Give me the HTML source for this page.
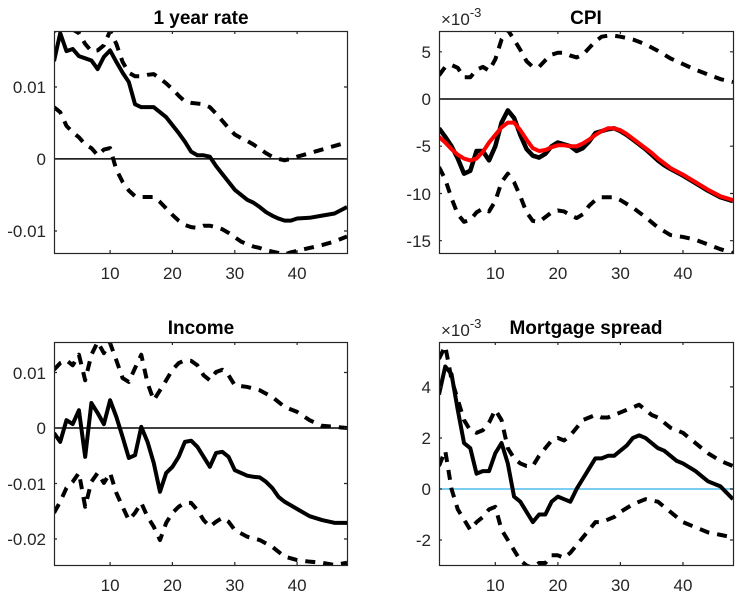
<!DOCTYPE html>
<html><head><meta charset="utf-8"><style>
html,body{margin:0;padding:0;background:#fff;}
svg text{font-family:"Liberation Sans",sans-serif;fill:#262626;}
</style></head><body>
<svg width="741" height="597" viewBox="0 0 741 597" xmlns="http://www.w3.org/2000/svg">
<rect width="741" height="597" fill="#fff"/>

<svg x="54" y="31" width="293" height="222" viewBox="1 -17.8 47 30.9" preserveAspectRatio="none">
<g transform="scale(1,-1)" fill="none" stroke-linejoin="round">
<line x1="1" y1="0" x2="48" y2="0" stroke="#000" stroke-width="1.5" vector-effect="non-scaling-stroke"/>
<polyline vector-effect="non-scaling-stroke" stroke="#000" stroke-width="4" points="1,13.6 2,17.5 3,15 4,15.3 5,14.3 6,14 7,13.7 8,12.5 9,14.2 10,15.1 11,13.5 12,12 13,10.7 14,7.6 15,7.2 16,7.2 17,7.2 18,6.5 19,5.8 20,4.7 21,3.6 22,2.4 23,1 24,0.5 25,0.5 26,0.3 27,-1 28,-2.1 29,-3.2 30,-4.3 31,-5 32,-5.7 33,-6.1 34,-6.7 35,-7.4 36,-7.9 37,-8.3 38,-8.6 39,-8.6 40,-8.3 42,-8.2 44,-7.9 46,-7.6 48,-6.7"/>
<polyline vector-effect="non-scaling-stroke" stroke="#000" stroke-width="4" stroke-dasharray="10,8" points="1,17.8 2,18.2 3,18.3 4,18 5,17.5 6,16 7,15 8,15.1 9,15.8 10,17.8 11,16 12,13.5 13,12 14,11.5 15,11.5 16,11.7 17,11.8 18,11.2 19,10.5 20,9.7 21,8.8 22,8 23,7.8 24,7.7 25,7.6 26,7.2 27,6.3 28,5.3 29,4.3 30,3.4 31,2.9 32,2.5 33,2 34,1.4 35,0.8 36,0.3 37,0 38,-0.2 39,0 40,0.3 42,0.8 44,1.3 46,1.8 48,2.3"/>
<polyline vector-effect="non-scaling-stroke" stroke="#000" stroke-width="4" stroke-dasharray="10,8" points="1,7.2 2,6.5 3,4.6 4,3.7 5,3 6,2 7,1.5 8,0.5 9,1.3 10,1.5 11,-1.5 12,-3.2 13,-4.4 14,-5.2 15,-5.3 16,-5.3 17,-5.3 18,-6 19,-6.9 20,-7.8 21,-8.6 22,-9.2 23,-9.5 24,-9.6 25,-9.3 26,-9.3 27,-9.5 28,-9.8 29,-10.3 30,-10.9 31,-11.5 32,-11.9 33,-12.2 34,-12.4 35,-12.7 36,-12.9 37,-13.1 38,-13.3 39,-13 40,-12.8 42,-12.4 44,-12 46,-11.5 48,-10.8"/>
</g></svg>

<svg x="439" y="31" width="294" height="222" viewBox="1 -7.2 47 23.5" preserveAspectRatio="none">
<g transform="scale(1,-1)" fill="none" stroke-linejoin="round">
<line x1="1" y1="0" x2="48" y2="0" stroke="#000" stroke-width="1.5" vector-effect="non-scaling-stroke"/>
<polyline vector-effect="non-scaling-stroke" stroke="#000" stroke-width="4" stroke-dasharray="10,8" points="1,2.5 2,3.4 3,3.6 4,3.3 5,2.3 6,2.3 7,3.1 8,3.4 9,3 10,4.2 11,6.3 12,7.3 13,6.3 14,5.2 15,4 16,3.4 17,3.4 18,4.1 19,4.7 20,4.9 21,4.9 22,4.6 23,4.4 24,4.7 25,5.4 26,6.1 27,6.6 28,6.7 29,6.7 30,6.6 32,6.3 34,5.8 36,5.1 38,4.3 40,3.7 42,3.1 44,2.6 46,2.1 48,1.8"/>
<polyline vector-effect="non-scaling-stroke" stroke="#000" stroke-width="4" stroke-dasharray="10,8" points="1,-7.2 2,-8.5 3,-10.5 4,-12.2 5,-13 6,-12.8 7,-12 8,-11.6 9,-11.9 10,-10.8 11,-8.8 12,-7.9 13,-8.8 14,-10.3 15,-12 16,-12.9 17,-13 18,-12.5 19,-12 20,-11.8 21,-11.9 22,-12.3 23,-12.6 24,-12.2 25,-11.3 26,-10.7 27,-10.4 28,-10.4 29,-10.4 30,-10.7 32,-11.5 34,-12.5 36,-13.6 38,-14.4 40,-14.6 42,-14.9 44,-15.4 46,-15.9 48,-16.3"/>
<polyline vector-effect="non-scaling-stroke" stroke="#000" stroke-width="4.5" points="1,-3.1 2,-4 3,-5 4,-6.3 5,-7.9 6,-7.6 7,-5.5 8,-5.5 9,-6.5 10,-5 11,-2.5 12,-1.2 13,-2 14,-3.8 15,-5.3 16,-6 17,-6.2 18,-5.8 19,-5 20,-4.6 21,-4.8 22,-5 23,-5.5 24,-5.2 25,-4.5 26,-3.6 27,-3.4 28,-3.2 29,-3.1 30,-3.4 31,-3.8 32,-4.3 33,-4.8 34,-5.3 35,-5.9 36,-6.5 37,-7 38,-7.4 40,-8.1 42,-8.9 44,-9.7 46,-10.4 48,-10.8"/>
<polyline vector-effect="non-scaling-stroke" stroke="#ff0000" stroke-width="4" points="1,-4 2,-4.6 3,-5.3 4,-5.9 5,-6.3 6,-6.5 7,-6.3 8,-5.6 9,-4.6 10,-3.8 11,-3 12,-2.5 13,-2.5 14,-3.3 15,-4.3 16,-5.2 17,-5.5 18,-5.4 19,-5.1 20,-4.9 21,-4.9 22,-5 23,-5 24,-4.7 25,-4.3 26,-3.8 27,-3.4 28,-3.1 29,-3.1 30,-3.3 31,-3.7 32,-4.2 33,-4.7 34,-5.2 35,-5.7 36,-6.3 37,-6.8 38,-7.3 40,-8 42,-8.8 44,-9.6 46,-10.3 48,-10.7"/>
</g></svg>

<svg x="54" y="342" width="293" height="223" viewBox="1 -15.5 47 40.2" preserveAspectRatio="none">
<g transform="scale(1,-1)" fill="none" stroke-linejoin="round">
<line x1="1" y1="0" x2="48" y2="0" stroke="#000" stroke-width="1.5" vector-effect="non-scaling-stroke"/>
<polyline vector-effect="non-scaling-stroke" stroke="#000" stroke-width="4" points="1,-0.9 2,-2.5 3,1.4 4,0.7 5,3.2 6,-5.2 7,4.5 8,2.7 9,0.7 10,5 11,2 12,-1.6 13,-5.4 14,-4.9 15,0.2 16,-2.5 17,-6.3 18,-11.5 19,-8.1 20,-7 21,-5.2 22,-2.5 23,-2.3 24,-3.4 25,-5.2 26,-7 27,-4.5 28,-4.3 29,-5.2 30,-7.6 31,-8.1 32,-8.6 33,-8.8 34,-8.9 35,-9.7 36,-10.8 37,-12.4 38,-13.3 40,-14.6 42,-15.9 44,-16.6 46,-17.1 48,-17.1"/>
<polyline vector-effect="non-scaling-stroke" stroke="#000" stroke-width="4" stroke-dasharray="10,8" points="1,10.5 2,11.7 3,12.2 4,11.3 5,13.2 6,8.6 7,13.2 8,15.5 9,13.5 10,15.3 11,12.2 12,9 13,8.3 14,10.8 15,13.2 16,8.1 17,5 18,6.8 19,8.6 20,10.5 21,11.7 22,12.2 23,12.1 24,11.3 25,9.5 26,8.6 27,10.1 28,10.5 29,9.5 30,7.7 32,7.4 34,6.8 36,5.6 38,3.8 40,2.9 42,1.4 44,0.4 46,0.2 48,0"/>
<polyline vector-effect="non-scaling-stroke" stroke="#000" stroke-width="4" stroke-dasharray="10,8" points="1,-15.3 2,-13.3 3,-10.8 4,-9.7 5,-8.1 6,-14.2 7,-9.7 8,-8.1 9,-9.9 10,-8.1 11,-11.7 12,-14.2 13,-16.6 14,-15.3 15,-13.5 16,-16 17,-17.8 18,-20.2 19,-17.1 20,-15.3 21,-14.2 22,-13.5 23,-13.5 24,-14.8 25,-16.6 26,-17.8 27,-16.9 28,-16.2 29,-16.9 30,-18.4 32,-19.6 34,-20.2 36,-21.4 38,-23.2 40,-23.8 42,-24.1 44,-24.3 46,-24.7 48,-24.3"/>
</g></svg>

<svg x="439" y="342" width="294" height="223" viewBox="1 -5.76 47 8.74" preserveAspectRatio="none">
<g transform="scale(1,-1)" fill="none" stroke-linejoin="round">
<line x1="1" y1="0" x2="48" y2="0" stroke="#4DBEEE" stroke-width="1.5" vector-effect="non-scaling-stroke"/>
<polyline vector-effect="non-scaling-stroke" stroke="#000" stroke-width="4" points="1,3.7 2,4.8 3,4.5 4,3.1 5,1.8 6,1.6 7,0.6 8,0.7 9,0.7 10,1.4 11,1.8 12,1 13,-0.3 14,-0.5 15,-0.9 16,-1.3 17,-1 18,-1 19,-0.5 20,-0.3 21,-0.4 22,-0.5 23,0 24,0.4 25,0.8 26,1.2 27,1.2 28,1.3 29,1.3 30,1.5 31,1.7 32,2 33,2.1 34,2 35,1.8 36,1.6 37,1.5 38,1.3 39,1.1 40,1 42,0.7 44,0.3 46,0.1 48,-0.4"/>
<polyline vector-effect="non-scaling-stroke" stroke="#000" stroke-width="4" stroke-dasharray="10,8" points="1,5.1 2,5.6 3,4.3 4,3.5 5,2.7 6,2.3 7,2.2 8,2.3 9,2.6 10,3.1 11,2.7 12,1.6 13,1.2 14,1 15,0.9 16,0.9 17,1.3 18,1.6 19,1.9 20,2 21,1.9 22,2.1 23,2.4 24,2.7 25,2.8 26,2.9 27,2.8 28,2.8 29,2.9 30,3 31,3.1 32,3.2 33,3.3 34,3.1 35,2.9 36,2.8 38,2.4 40,2.2 42,1.8 44,1.4 46,1.1 48,0.9"/>
<polyline vector-effect="non-scaling-stroke" stroke="#000" stroke-width="4" stroke-dasharray="10,8" points="1,0.9 2,1.5 3,0 4,-0.8 5,-1.2 6,-1.6 7,-1.3 8,-1.1 9,-0.8 10,-0.7 11,-1.6 12,-2 13,-2.4 14,-2.8 15,-3 16,-3.1 17,-2.9 18,-2.9 19,-2.6 20,-2.6 21,-2.7 22,-2.5 23,-2.2 24,-1.9 25,-1.6 26,-1.3 27,-1.3 28,-1.2 29,-1.1 30,-0.9 32,-0.6 34,-0.4 36,-0.5 38,-0.9 40,-1.3 42,-1.5 44,-1.7 46,-1.8 48,-1.9"/>
</g></svg>

<g fill="none" stroke="#262626" stroke-width="1.2">
<rect x="54.5" y="31.5" width="293" height="222"/>
<rect x="439.5" y="31.5" width="294" height="222"/>
<rect x="54.5" y="342.5" width="293" height="223"/>
<rect x="439.5" y="342.5" width="294" height="223"/>
<path d="M110.1,253v-3M172.4,253v-3M234.8,253v-3M297.1,253v-3 M110.1,31v3M172.4,31v3M234.8,31v3M297.1,31v3
M54,87h3M54,159h3M54,231h3 M347,87h-3M347,159h-3M347,231h-3"/>
<path d="M495.3,253v-3M557.9,253v-3M620.4,253v-3M683,253v-3 M495.3,31v3M557.9,31v3M620.4,31v3M683,31v3
M439,51.8h3M439,99h3M439,146.2h3M439,193.5h3M439,240.7h3 M733,51.8h-3M733,99h-3M733,146.2h-3M733,193.5h-3M733,240.7h-3"/>
<path d="M110.1,565v-3M172.4,565v-3M234.8,565v-3M297.1,565v-3 M110.1,342v3M172.4,342v3M234.8,342v3M297.1,342v3
M54,372.5h3M54,428h3M54,483.5h3M54,539h3 M347,372.5h-3M347,428h-3M347,483.5h-3M347,539h-3"/>
<path d="M495.3,565v-3M557.9,565v-3M620.4,565v-3M683,565v-3 M495.3,342v3M557.9,342v3M620.4,342v3M683,342v3
M439,386.9h3M439,438h3M439,489h3M439,540h3 M733,386.9h-3M733,438h-3M733,489h-3M733,540h-3"/>
</g>

<g font-size="17">
<g text-anchor="middle">
<text x="110.1" y="279">10</text><text x="172.4" y="279">20</text><text x="234.8" y="279">30</text><text x="297.1" y="279">40</text>
<text x="495.3" y="279">10</text><text x="557.9" y="279">20</text><text x="620.4" y="279">30</text><text x="683" y="279">40</text>
<text x="110.1" y="591">10</text><text x="172.4" y="591">20</text><text x="234.8" y="591">30</text><text x="297.1" y="591">40</text>
<text x="495.3" y="591">10</text><text x="557.9" y="591">20</text><text x="620.4" y="591">30</text><text x="683" y="591">40</text>
</g>
<g text-anchor="end">
<text x="46" y="93">0.01</text><text x="46" y="165">0</text><text x="46" y="237">-0.01</text>
<text x="431" y="58">5</text><text x="431" y="105">0</text><text x="431" y="152">-5</text><text x="431" y="200">-10</text><text x="431" y="247">-15</text>
<text x="46" y="379">0.01</text><text x="46" y="434">0</text><text x="46" y="490">-0.01</text><text x="46" y="545">-0.02</text>
<text x="431" y="393">4</text><text x="431" y="444">2</text><text x="431" y="495">0</text><text x="431" y="546">-2</text>
</g>
<text x="441" y="25">×10<tspan font-size="13" dy="-8">-3</tspan></text>
<text x="441" y="336">×10<tspan font-size="13" dy="-8">-3</tspan></text>
</g>
<g font-size="19" font-weight="bold" text-anchor="middle">
<text x="201" y="24" style="fill:#000">1 year rate</text>
<text x="586" y="24" style="fill:#000">CPI</text>
<text x="201" y="334" style="fill:#000">Income</text>
<text x="586" y="334" style="fill:#000">Mortgage spread</text>
</g>
</svg>
</body></html>
